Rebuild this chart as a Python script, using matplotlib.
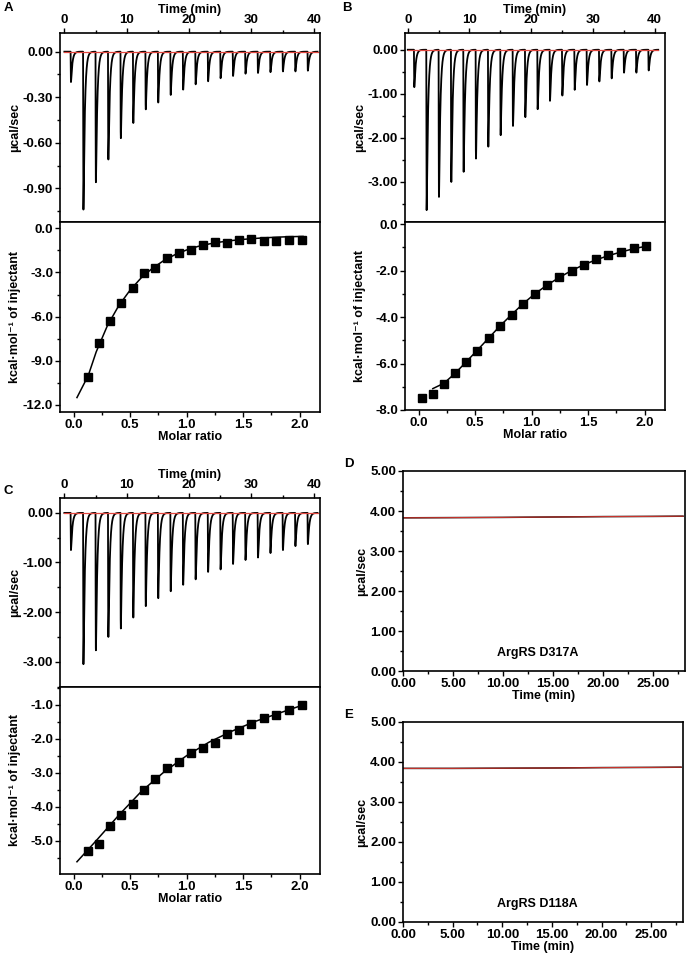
import numpy as np
import matplotlib
matplotlib.use("Agg")
import matplotlib.pyplot as plt
from matplotlib.ticker import MultipleLocator, FormatStrFormatter

plt.rcParams['font.family'] = ['Liberation Sans', 'DejaVu Sans']
plt.rcParams['font.weight'] = 'bold'
plt.rcParams['axes.labelweight'] = 'bold'
plt.rcParams['axes.unicode_minus'] = False
plt.rcParams['font.size'] = 9

TICK = 9.5
LAB = 9

# ---------------- data ----------------
inj_times = [1, 3, 5, 7, 9, 11, 13, 15, 17, 19, 21, 23, 25, 27, 29, 31, 33, 35, 37, 39]

peaks_A = [-0.20, -1.04, -0.86, -0.71, -0.57, -0.47, -0.38, -0.335, -0.285, -0.25,
           -0.215, -0.195, -0.175, -0.16, -0.145, -0.14, -0.135, -0.13, -0.13, -0.125]
peaks_B = [-0.85, -3.64, -3.34, -3.00, -2.77, -2.47, -2.20, -1.94, -1.73, -1.53,
           -1.35, -1.16, -1.04, -0.91, -0.80, -0.72, -0.65, -0.52, -0.52, -0.47]
peaks_C = [-0.75, -3.05, -2.77, -2.50, -2.33, -2.11, -1.88, -1.72, -1.58, -1.45,
           -1.34, -1.19, -1.14, -1.03, -0.95, -0.90, -0.81, -0.75, -0.67, -0.63]

ratio_A = [0.13, 0.226, 0.324, 0.424, 0.524, 0.626, 0.724, 0.83, 0.933, 1.035,
           1.141, 1.247, 1.353, 1.462, 1.574, 1.682, 1.788, 1.906, 2.018]
heat_A = [-10.07, -7.77, -6.29, -5.09, -4.03, -3.06, -2.72, -2.04, -1.70, -1.47,
          -1.13, -0.95, -1.02, -0.79, -0.72, -0.86, -0.86, -0.79, -0.79]
fitx_A = [0.03, 0.13, 0.2, 0.3, 0.4, 0.5, 0.6, 0.7, 0.8, 0.9, 1.0, 1.1, 1.2, 1.3,
          1.4, 1.5, 1.6, 1.7, 1.8, 1.9, 2.03]
fity_A = [-11.5, -10.0, -8.4, -6.6, -5.25, -4.2, -3.35, -2.7, -2.18, -1.78, -1.47,
          -1.23, -1.06, -0.93, -0.83, -0.75, -0.69, -0.64, -0.6, -0.57, -0.55]

ratio_B = [0.03, 0.126, 0.224, 0.324, 0.421, 0.521, 0.621, 0.721, 0.826, 0.926,
           1.029, 1.138, 1.244, 1.353, 1.462, 1.568, 1.679, 1.791, 1.903, 2.015]
heat_B = [-7.47, -7.29, -6.87, -6.42, -5.93, -5.45, -4.91, -4.38, -3.91, -3.43,
          -3.02, -2.64, -2.28, -2.00, -1.75, -1.52, -1.35, -1.18, -1.05, -0.95]
fitx_B = [0.126, 0.224, 0.324, 0.421, 0.521, 0.621, 0.721, 0.826, 0.926, 1.029,
          1.138, 1.244, 1.353, 1.462, 1.568, 1.679, 1.791, 1.903, 2.015]
fity_B = [-7.08, -6.85, -6.42, -5.93, -5.42, -4.90, -4.38, -3.88, -3.42, -3.00,
          -2.62, -2.30, -2.00, -1.75, -1.54, -1.36, -1.20, -1.06, -0.95]

ratio_C = ratio_A
heat_C = [-5.31, -5.10, -4.56, -4.24, -3.92, -3.51, -3.18, -2.87, -2.69, -2.43,
          -2.26, -2.12, -1.87, -1.73, -1.58, -1.40, -1.31, -1.15, -1.02]
fitx_C = [0.03, 0.2, 0.4, 0.6, 0.8, 1.0, 1.2, 1.4, 1.6, 1.8, 2.02]
fity_C = [-5.62, -5.0, -4.25, -3.55, -2.98, -2.5, -2.1, -1.78, -1.5, -1.27, -1.02]

time_D = [0, 5, 10, 15, 20, 25, 28]
power_D = [3.83, 3.835, 3.84, 3.85, 3.86, 3.865, 3.87]
time_E = [0, 5, 10, 15, 20, 25, 28]
power_E = [3.84, 3.84, 3.845, 3.85, 3.86, 3.865, 3.87]

# ---------------- helpers ----------------
W, H = 686, 956
fig = plt.figure(figsize=(W / 100, H / 100), dpi=100)


def rect(l, t, r, b):
    return [l / W, 1 - b / H, (r - l) / W, (b - t) / H]


def style(ax):
    for s in ax.spines.values():
        s.set_linewidth(1.2)
    ax.tick_params(which='both', direction='out', width=1.0, labelsize=TICK, pad=1.5)
    ax.tick_params(which='major', length=3.5)
    ax.tick_params(which='minor', length=2)


def thermogram(ax, peaks, xlim, ylim, ymaj, ymin, fmt):
    t = np.linspace(0, 40.6, 12000)
    sig = np.zeros_like(t)
    for ti, d in zip(inj_times, peaks):
        s = t - ti
        m = s >= 0
        p = np.zeros_like(t)
        p[m] = (1 - np.exp(-s[m] / 0.025)) * np.exp(-s[m] / 0.22)
        sig += d * p / p.max()
    ax.plot(t, sig, color='black', lw=1.3)
    ax.plot([t[0], t[-1]], [0, 0], color='#e2473f', lw=0.9)
    ax.set_xlim(*xlim)
    ax.set_ylim(*ylim)
    ax.xaxis.set_ticks_position('top')
    ax.xaxis.set_label_position('top')
    ax.xaxis.set_major_locator(MultipleLocator(10))
    ax.xaxis.set_minor_locator(MultipleLocator(5))
    ax.yaxis.set_major_locator(MultipleLocator(ymaj))
    ax.yaxis.set_minor_locator(MultipleLocator(ymin))
    ax.yaxis.set_major_formatter(FormatStrFormatter(fmt))
    ax.set_xlabel('Time (min)', fontsize=LAB, labelpad=1)
    ax.set_ylabel('µcal/sec', fontsize=LAB)
    ax.yaxis.set_label_coords(-0.15, 0.5)
    style(ax)


def isotherm(ax, rx, hy, fx, fy, ylim, ymaj, ymin):
    ax.plot(fx, fy, color='black', lw=1.1)
    ax.plot(rx, hy, ls='none', marker='s', ms=5.8, color='black')
    ax.set_xlim(-0.12, 2.18)
    ax.set_ylim(*ylim)
    ax.xaxis.set_major_locator(MultipleLocator(0.5))
    ax.xaxis.set_minor_locator(MultipleLocator(0.25))
    ax.yaxis.set_major_locator(MultipleLocator(ymaj))
    ax.yaxis.set_minor_locator(MultipleLocator(ymin))
    ax.yaxis.set_major_formatter(FormatStrFormatter('%.1f'))
    ax.xaxis.set_major_formatter(FormatStrFormatter('%.1f'))
    ax.set_xlabel('Molar ratio', fontsize=LAB, labelpad=0)
    ax.set_ylabel('kcal·mol⁻¹ of injectant', fontsize=LAB)
    ax.yaxis.set_label_coords(-0.15, 0.5)
    style(ax)


def flat(ax, tx, py, label):
    ax.plot(tx, py, color='black', lw=1.1)
    ax.plot(tx, py, color='#c8342c', lw=0.8)
    ax.set_xlim(0, 28.2)
    ax.set_ylim(0, 5)
    ax.xaxis.set_major_locator(MultipleLocator(5))
    ax.xaxis.set_minor_locator(MultipleLocator(2.5))
    ax.yaxis.set_major_locator(MultipleLocator(1))
    ax.yaxis.set_minor_locator(MultipleLocator(0.5))
    ax.xaxis.set_major_formatter(FormatStrFormatter('%.2f'))
    ax.yaxis.set_major_formatter(FormatStrFormatter('%.2f'))
    ax.set_xlabel('Time (min)', fontsize=LAB, labelpad=0)
    ax.set_ylabel('µcal/sec', fontsize=LAB)
    ax.yaxis.set_label_coords(-0.125, 0.5)
    ax.text(13.5, 0.45, label, ha='center', va='center', fontsize=LAB)
    style(ax)


# ---------------- panels ----------------
axA1 = fig.add_axes(rect(60, 33, 320, 222))
thermogram(axA1, peaks_A, (-0.7, 41.0), (-1.122, 0.123), 0.30, 0.15, '%.2f')
axA2 = fig.add_axes(rect(60, 222, 320, 412))
isotherm(axA2, ratio_A, heat_A, fitx_A, fity_A, (-12.48, 0.43), 3.0, 1.5)

axB1 = fig.add_axes(rect(405, 33, 665, 222))
thermogram(axB1, peaks_B, (-0.45, 41.7), (-3.91, 0.38), 1.0, 0.5, '%.2f')
axB2 = fig.add_axes(rect(405, 222, 665, 410))
isotherm(axB2, ratio_B, heat_B, fitx_B, fity_B, (-8.0, 0.09), 2.0, 1.0)

axC1 = fig.add_axes(rect(60, 498, 320, 687))
thermogram(axC1, peaks_C, (-0.7, 41.0), (-3.51, 0.30), 1.0, 0.5, '%.2f')
axC2 = fig.add_axes(rect(60, 687, 320, 874))
isotherm(axC2, ratio_C, heat_C, fitx_C, fity_C, (-5.98, -0.48), 1.0, 0.5)

axD = fig.add_axes(rect(403, 471, 685, 671))
flat(axD, time_D, power_D, 'ArgRS D317A')
axE = fig.add_axes(rect(403, 722, 683, 922))
flat(axE, time_E, power_E, 'ArgRS D118A')

for lab, x, y in [('A', 8, 8), ('B', 347, 8), ('C', 8, 491), ('D', 349, 464), ('E', 349, 715)]:
    fig.text(x / W, 1 - y / H, lab, fontsize=9.5, ha='center', va='center')

fig.savefig('out.png', dpi=100)
